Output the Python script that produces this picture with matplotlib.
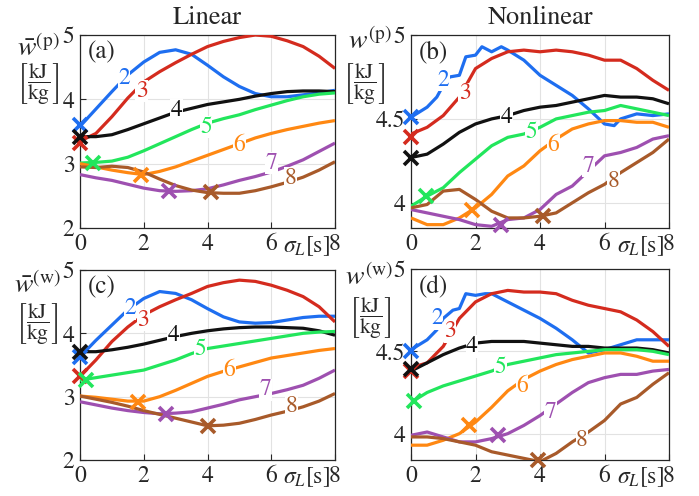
import numpy as np
import matplotlib
matplotlib.use("Agg")
import matplotlib.pyplot as plt
from matplotlib.transforms import blended_transform_factory

plt.rcParams['font.family'] = ['STIXGeneral', 'Liberation Serif', 'DejaVu Serif']
plt.rcParams['mathtext.fontset'] = 'stix'

sigma = np.arange(0, 8.01, 0.5)
orders = ['2', '3', '4', '5', '6', '7', '8']
colors = ['#1e6ef0', '#d42b1e', '#111111', '#22e65c', '#ff8812', '#9e50b0', '#a85a2a']

# ---- (a) linear, w^(p) ----
a_vals = [
    [3.58, 3.85, 4.12, 4.38, 4.58, 4.73, 4.77, 4.70, 4.53, 4.35, 4.20, 4.09, 4.04, 4.04, 4.07, 4.10, 4.14],
    [3.35, 3.47, 3.73, 4.02, 4.27, 4.43, 4.57, 4.70, 4.82, 4.90, 4.96, 5.00, 4.98, 4.91, 4.82, 4.67, 4.48],
    [3.42, 3.42, 3.45, 3.53, 3.62, 3.71, 3.80, 3.86, 3.92, 3.96, 4.00, 4.05, 4.09, 4.12, 4.13, 4.13, 4.12],
    [3.01, 3.02, 3.04, 3.10, 3.20, 3.31, 3.42, 3.53, 3.63, 3.70, 3.76, 3.84, 3.91, 3.98, 4.04, 4.08, 4.10],
    [3.00, 2.95, 2.90, 2.86, 2.83, 2.88, 2.95, 3.04, 3.13, 3.22, 3.31, 3.40, 3.47, 3.53, 3.58, 3.63, 3.67],
    [2.83, 2.78, 2.74, 2.68, 2.62, 2.58, 2.57, 2.58, 2.61, 2.67, 2.74, 2.80, 2.87, 2.96, 3.06, 3.19, 3.32],
    [2.95, 2.94, 2.96, 2.94, 2.87, 2.76, 2.66, 2.59, 2.55, 2.54, 2.54, 2.58, 2.64, 2.71, 2.79, 2.90, 3.03],
]
a_mark_x = [0, 0, 0, 0.4, 1.9, 2.8, 4.1]
a_mark_y = [3.60, 3.32, 3.42, 3.01, 2.82, 2.57, 2.56]
a_lab_x = [1.38, 1.93, 3.03, 3.95, 5.0, 6.0, 6.6]
a_lab_y = [4.33, 4.13, 3.83, 3.57, 3.29, 3.01, 2.78]

# ---- (b) nonlinear, w^(p) ----
b_blue_x = [0, 0.5, 0.8, 1.0, 1.2, 1.5, 1.7, 2.0, 2.2, 2.5, 2.8, 3.0, 3.5, 4.0, 4.5, 5.0, 5.5, 6.0, 6.3, 6.5, 7.0, 7.5, 8.0]
b_blue_y = [4.51, 4.57, 4.63, 4.70, 4.75, 4.76, 4.87, 4.88, 4.93, 4.90, 4.93, 4.91, 4.85, 4.76, 4.70, 4.64, 4.56, 4.47, 4.46, 4.50, 4.53, 4.52, 4.53]
b_vals = [
    None,
    [4.41, 4.45, 4.52, 4.63, 4.80, 4.86, 4.90, 4.91, 4.90, 4.91, 4.90, 4.88, 4.85, 4.85, 4.80, 4.73, 4.67],
    [4.27, 4.29, 4.35, 4.42, 4.47, 4.50, 4.52, 4.55, 4.57, 4.58, 4.60, 4.62, 4.64, 4.63, 4.63, 4.62, 4.59],
    [3.98, 4.04, 4.09, 4.18, 4.26, 4.34, 4.39, 4.41, 4.45, 4.50, 4.52, 4.54, 4.55, 4.58, 4.56, 4.54, 4.52],
    [3.91, 3.87, 3.87, 3.91, 3.97, 4.05, 4.16, 4.22, 4.31, 4.38, 4.44, 4.47, 4.49, 4.49, 4.48, 4.48, 4.45],
    [3.96, 3.94, 3.92, 3.90, 3.87, 3.86, 3.90, 3.91, 3.96, 4.05, 4.10, 4.19, 4.28, 4.30, 4.33, 4.38, 4.40],
    [3.97, 3.99, 4.07, 4.08, 4.02, 3.95, 3.91, 3.91, 3.92, 3.94, 4.00, 4.06, 4.11, 4.18, 4.24, 4.30, 4.38],
]
b_mark_x = [0, 0, 0, 0.45, 1.9, 2.8, 4.1]
b_mark_y = [4.51, 4.39, 4.27, 4.04, 3.96, 3.87, 3.92]
b_lab_x = [1.0, 1.67, 2.97, 3.74, 4.41, 5.5, 6.27]
b_lab_y = [4.73, 4.65, 4.51, 4.42, 4.34, 4.22, 4.13]

# ---- (c) linear, w^(w) ----
c_vals = [
    [3.63, 3.89, 4.13, 4.37, 4.55, 4.66, 4.63, 4.53, 4.39, 4.26, 4.18, 4.16, 4.17, 4.21, 4.25, 4.27, 4.27],
    [3.32, 3.58, 3.87, 4.10, 4.29, 4.42, 4.53, 4.63, 4.74, 4.80, 4.84, 4.82, 4.76, 4.68, 4.58, 4.42, 4.18],
    [3.71, 3.71, 3.74, 3.78, 3.83, 3.89, 3.95, 4.00, 4.04, 4.07, 4.09, 4.10, 4.10, 4.09, 4.08, 4.04, 3.97],
    [3.26, 3.30, 3.34, 3.38, 3.42, 3.50, 3.58, 3.68, 3.76, 3.80, 3.84, 3.88, 3.92, 3.96, 4.00, 4.02, 4.03],
    [3.01, 2.99, 2.96, 2.93, 2.93, 3.00, 3.10, 3.21, 3.32, 3.40, 3.47, 3.54, 3.61, 3.65, 3.69, 3.73, 3.76],
    [2.92, 2.87, 2.82, 2.78, 2.75, 2.73, 2.74, 2.76, 2.82, 2.88, 2.95, 3.00, 3.05, 3.11, 3.18, 3.29, 3.42],
    [3.01, 2.96, 2.91, 2.85, 2.78, 2.72, 2.66, 2.60, 2.54, 2.55, 2.58, 2.64, 2.71, 2.77, 2.84, 2.93, 3.05],
]
c_mark_x = [0, 0, 0, 0.2, 1.83, 2.7, 4.0]
c_mark_y = [3.63, 3.32, 3.71, 3.27, 2.91, 2.73, 2.54]
c_lab_x = [1.57, 1.99, 2.93, 3.77, 4.69, 5.81, 6.64]
c_lab_y = [4.39, 4.21, 3.97, 3.74, 3.41, 3.11, 2.84]

# ---- (d) nonlinear, w^(w) ----
d_blue_x = [0, 0.5, 0.8, 1.0, 1.3, 1.5, 1.7, 2.0, 2.3, 2.5, 2.8, 3.0, 3.5, 4.0, 4.5, 5.0, 5.5, 6.0, 6.5, 7.0, 7.5, 8.0]
d_blue_y = [4.51, 4.57, 4.63, 4.70, 4.75, 4.76, 4.85, 4.84, 4.85, 4.85, 4.82, 4.80, 4.75, 4.70, 4.64, 4.57, 4.49, 4.51, 4.54, 4.57, 4.57, 4.57]
d_vals = [
    None,
    [4.40, 4.43, 4.53, 4.70, 4.80, 4.85, 4.87, 4.86, 4.86, 4.85, 4.81, 4.78, 4.76, 4.74, 4.69, 4.62, 4.53],
    [4.38, 4.43, 4.48, 4.52, 4.55, 4.56, 4.56, 4.56, 4.55, 4.54, 4.53, 4.53, 4.52, 4.52, 4.52, 4.51, 4.49],
    [4.19, 4.25, 4.29, 4.32, 4.35, 4.38, 4.42, 4.44, 4.46, 4.48, 4.49, 4.50, 4.51, 4.51, 4.51, 4.50, 4.48],
    [3.93, 3.93, 3.96, 4.00, 4.07, 4.16, 4.26, 4.33, 4.38, 4.42, 4.45, 4.47, 4.49, 4.49, 4.47, 4.44, 4.44],
    [3.99, 4.01, 3.98, 3.95, 3.95, 3.97, 4.00, 4.05, 4.11, 4.18, 4.25, 4.31, 4.34, 4.36, 4.36, 4.38, 4.39],
    [3.98, 3.98, 3.97, 3.95, 3.93, 3.89, 3.87, 3.85, 3.83, 3.88, 3.95, 4.01, 4.08, 4.18, 4.22, 4.30, 4.37],
]
d_mark_x = [0, 0, 0, 0.1, 1.8, 2.7, 3.95]
d_mark_y = [4.50, 4.38, 4.39, 4.20, 4.05, 3.99, 3.84]
d_lab_x = [0.8, 1.21, 1.89, 2.77, 3.44, 4.32, 5.3]
d_lab_y = [4.70, 4.62, 4.53, 4.40, 4.29, 4.13, 3.96]

fig = plt.figure(figsize=(6.99, 4.96), dpi=100)
W, H = 699, 496


def add_ax(l, r, t, b):
    return fig.add_axes([l / W, 1 - b / H, (r - l) / W, (b - t) / H])


ax_a = add_ax(80, 335, 35, 228)
ax_b = add_ax(411, 669, 35, 228)
ax_c = add_ax(80, 335, 270, 460)
ax_d = add_ax(411, 669, 269, 460)

panels = [
    (ax_a, a_vals, None, None, a_mark_x, a_mark_y, a_lab_x, a_lab_y, (2, 5), [2, 3, 4, 5], ['2', '3', '4', '5'], '(a)',
     r'$\bar{w}^{(\mathrm{p})}$', (-0.165, 0.860), (-0.165, 0.862)),
    (ax_b, b_vals, b_blue_x, b_blue_y, b_mark_x, b_mark_y, b_lab_x, b_lab_y, (3.85, 5), [4, 4.5, 5], ['4', '4.5', '5'], '(b)',
     r'$w^{(\mathrm{p})}$', (-0.158, 0.896), (-0.182, 0.865)),
    (ax_c, c_vals, None, None, c_mark_x, c_mark_y, c_lab_x, c_lab_y, (2, 5), [2, 3, 4, 5], ['2', '3', '4', '5'], '(c)',
     r'$\bar{w}^{(\mathrm{w})}$', (-0.168, 0.847), (-0.168, 0.835)),
    (ax_d, d_vals, d_blue_x, d_blue_y, d_mark_x, d_mark_y, d_lab_x, d_lab_y, (3.84, 5), [4, 4.5, 5], ['4', '4.5', '5'], '(d)',
     r'$w^{(\mathrm{w})}$', (-0.163, 0.885), (-0.160, 0.862)),
]

for (ax, vals, bx, by, mx, my, lx, ly, ylim, yt, ytl, tag, ylab, ypos1, ypos2) in panels:
    for i in range(7):
        if vals[i] is None:
            ax.plot(bx, by, color=colors[i], lw=2.3, zorder=3, solid_capstyle='butt')
        else:
            ax.plot(sigma, vals[i], color=colors[i], lw=2.3, zorder=3, solid_capstyle='butt')
    for i in range(7):
        ax.plot(mx[i], my[i], marker='x', color=colors[i], ms=10, mew=2.6, zorder=5, clip_on=False)
    for i in range(7):
        ax.text(lx[i], ly[i], orders[i], color=colors[i], fontsize=17, ha='center', va='center', zorder=4,
                bbox=dict(facecolor='white', edgecolor='none', pad=0.3))
    ax.set_xlim(0, 8)
    ax.set_ylim(*ylim)
    ax.set_xticks([0, 2, 4, 6, 8])
    ax.set_xticklabels(['0', '2', '4', '6', '8'])
    ax.set_yticks(yt)
    ax.set_yticklabels(ytl)
    ax.grid(True, color='#e2e2e2', lw=0.8, zorder=0)
    ax.set_axisbelow(True)
    ax.tick_params(direction='in', length=4, width=0.8, labelsize=17, pad=4, colors='#262626')
    for s in ax.spines.values():
        s.set_linewidth(0.9)
        s.set_color('#262626')
    ax.text(0.03, 0.97, tag, transform=ax.transAxes, fontsize=18, ha='left', va='top', color='#262626', zorder=6)
    tr = blended_transform_factory(ax.transData, ax.transAxes)
    ax.text(7.1, -0.03, r'$\sigma_L[\mathrm{s}]$', transform=tr, fontsize=17, ha='center', va='top', color='#262626')
    ax.text(ypos1[0], ypos1[1], ylab, transform=ax.transAxes, fontsize=20, ha='center', va='bottom', color='#262626')
    ax.text(ypos2[0], ypos2[1], r'$\left[\dfrac{\mathrm{kJ}}{\mathrm{kg}}\right]$', transform=ax.transAxes,
            fontsize=15.5, ha='center', va='top', color='#262626')

ax_a.set_title('Linear', fontsize=19, pad=8, color='#262626')
ax_b.set_title('Nonlinear', fontsize=19, pad=8, color='#262626')

fig.savefig('out.png', dpi=100)
